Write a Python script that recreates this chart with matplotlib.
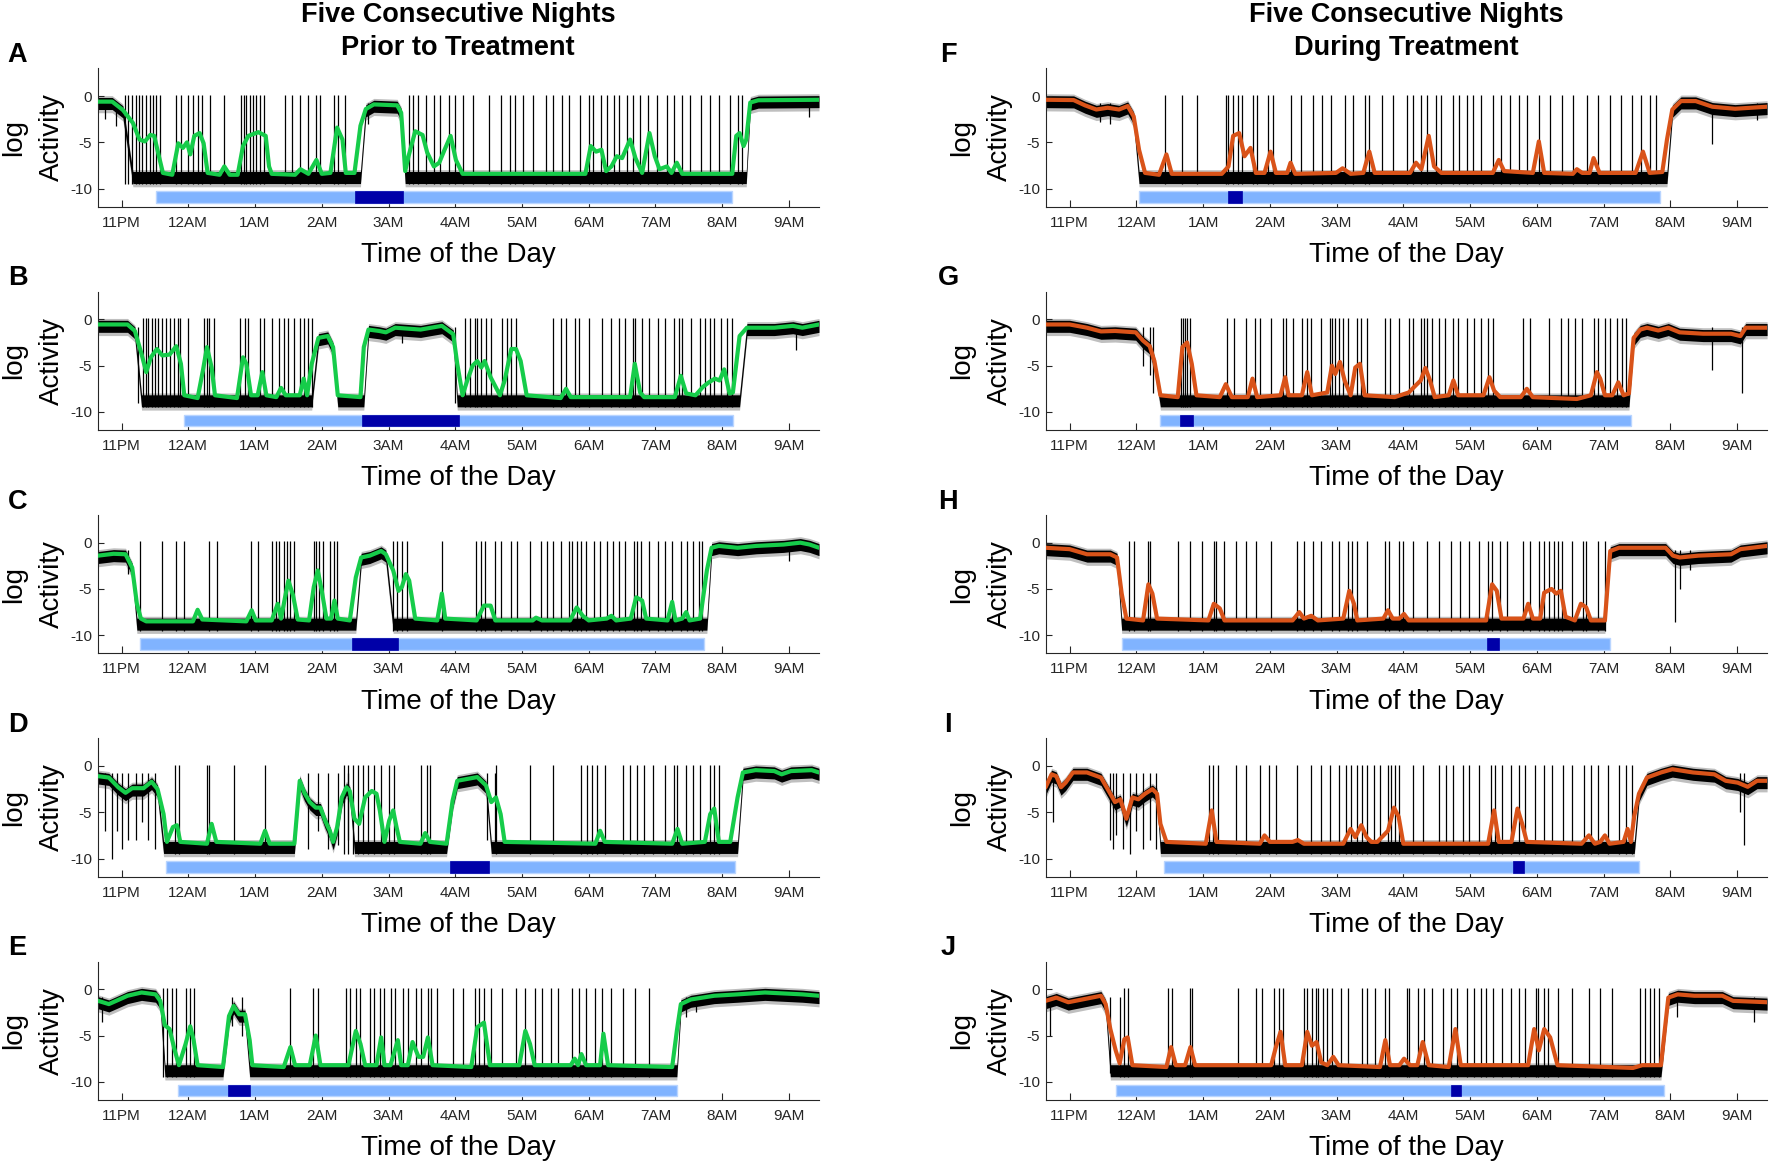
import numpy as np
import matplotlib
matplotlib.use("Agg")
import matplotlib.pyplot as plt

plt.rcParams['font.family'] = ['Liberation Sans', 'DejaVu Sans']

# ---------------- data (hours; 24 = midnight) ----------------
HOUR_TICKS = [23, 24, 25, 26, 27, 28, 29, 30, 31, 32, 33]
HOUR_LABELS = ['11PM', '12AM', '1AM', '2AM', '3AM', '4AM', '5AM', '6AM', '7AM', '8AM', '9AM']
Y_TICKS = [-10, -5, 0]
PANEL_LETTERS = ['A', 'B', 'C', 'D', 'E', 'F', 'G', 'H', 'I', 'J']
TITLE_LEFT = ['Five Consecutive Nights', 'Prior to Treatment']
TITLE_RIGHT = ['Five Consecutive Nights', 'During Treatment']
SLEEP_LEVEL = -8.6   # typical raw log activity while asleep

# smoothed log activity (time, value)
A_curve = [(22.62, -0.6), (22.86, -0.6), (23.02, -1.5), (23.17, -2.9), (23.27, -4.7), (23.35, -4.9), (23.43, -4.2),
           (23.49, -4.3), (23.56, -6.5), (23.62, -8.3), (23.76, -8.5), (23.85, -5.1), (23.92, -5.6), (23.98, -5.0),
           (24.03, -6.3), (24.09, -4.3), (24.17, -4.0), (24.23, -5.1), (24.29, -8.3), (24.47, -8.5), (24.54, -7.6),
           (24.62, -8.5), (24.74, -8.5), (24.82, -5.4), (24.90, -4.3), (25.05, -3.9), (25.16, -4.3), (25.21, -7.6),
           (25.25, -8.4), (25.60, -8.5), (25.68, -7.9), (25.80, -8.4), (25.92, -6.9), (26.00, -8.4), (26.13, -8.3),
           (26.23, -3.4), (26.31, -4.7), (26.36, -8.3), (26.49, -8.3), (26.58, -3.2), (26.66, -1.4), (26.78, -0.9),
           (27.13, -1.0), (27.19, -1.8), (27.25, -8.1), (27.30, -6.5), (27.40, -3.8), (27.51, -4.2), (27.58, -6.1),
           (27.68, -7.6), (27.76, -7.2), (27.84, -5.8), (27.93, -4.3), (28.01, -6.9), (28.11, -8.4), (29.95, -8.4),
           (30.03, -5.4), (30.11, -6.0), (30.19, -5.8), (30.26, -8.1), (30.34, -7.6), (30.42, -6.5), (30.50, -6.7),
           (30.62, -4.7), (30.70, -6.7), (30.80, -8.3), (30.91, -4.0), (30.99, -6.5), (31.06, -7.9), (31.17, -7.6),
           (31.24, -8.3), (31.32, -7.2), (31.40, -8.4), (32.15, -8.4), (32.21, -4.3), (32.26, -4.0), (32.32, -5.4),
           (32.36, -4.7), (32.42, -0.7), (32.54, -0.45), (33.45, -0.4)]
B_curve = [(22.65, -0.55), (23.09, -0.55), (23.20, -1.25), (23.30, -3.75), (23.37, -5.7), (23.44, -4.1), (23.53, -3.2),
           (23.61, -3.9), (23.72, -3.8), (23.82, -2.9), (23.89, -4.8), (23.94, -8.2), (24.14, -8.5), (24.22, -5.5),
           (24.28, -3.0), (24.35, -5.2), (24.40, -8.2), (24.73, -8.5), (24.82, -4.1), (24.87, -4.8), (24.94, -8.2),
           (25.04, -8.2), (25.11, -5.7), (25.17, -8.2), (25.32, -8.4), (25.39, -7.4), (25.46, -8.2), (25.67, -8.2),
           (25.73, -6.4), (25.78, -8.2), (25.85, -4.8), (25.95, -2.0), (26.09, -1.8), (26.17, -3.0), (26.24, -8.2),
           (26.58, -8.4), (26.63, -3.0), (26.70, -1.1), (26.86, -1.25), (26.96, -1.4), (27.10, -0.9), (27.48, -1.1),
           (27.80, -0.7), (27.97, -1.6), (28.03, -4.8), (28.11, -8.2), (28.18, -6.6), (28.26, -5.0), (28.33, -4.5),
           (28.39, -5.2), (28.44, -4.5), (28.53, -6.25), (28.67, -8.2), (28.74, -6.6), (28.84, -3.2), (28.91, -3.2),
           (28.98, -4.5), (29.07, -8.2), (29.58, -8.5), (29.66, -7.5), (29.73, -8.4), (30.62, -8.4), (30.69, -4.8),
           (30.77, -7.9), (30.83, -8.4), (31.29, -8.4), (31.38, -6.1), (31.46, -8.0), (31.60, -8.2), (31.71, -7.3),
           (31.80, -6.8), (31.89, -6.4), (31.96, -6.6), (32.03, -5.4), (32.11, -8.0), (32.16, -7.9), (32.26, -1.8),
           (32.37, -0.9), (32.78, -0.9), (33.06, -0.7), (33.20, -0.9), (33.45, -0.55)]
C_curve = [(22.65, -1.4), (22.88, -1.2), (23.06, -1.25), (23.16, -2.7), (23.23, -6.6), (23.29, -8.2), (23.37, -8.5),
           (24.07, -8.5), (24.14, -7.25), (24.21, -8.3), (24.87, -8.5), (24.95, -7.3), (25.01, -8.4), (25.25, -8.4),
           (25.34, -6.6), (25.39, -8.2), (25.45, -5.9), (25.50, -4.1), (25.57, -5.7), (25.64, -8.3), (25.81, -8.4),
           (25.88, -4.8), (25.94, -3.0), (26.00, -5.2), (26.07, -8.2), (26.14, -8.2), (26.19, -6.25), (26.24, -8.2),
           (26.42, -8.4), (26.51, -3.75), (26.59, -1.6), (26.72, -1.4), (26.89, -0.9), (26.96, -1.25), (27.07, -3.0),
           (27.15, -5.2), (27.20, -4.8), (27.26, -3.4), (27.31, -4.1), (27.40, -8.2), (27.73, -8.4), (27.80, -5.5),
           (27.85, -8.2), (28.32, -8.4), (28.43, -6.8), (28.53, -6.8), (28.60, -8.4), (29.16, -8.4), (29.21, -8.1),
           (29.30, -8.4), (29.72, -8.4), (29.82, -7.0), (29.91, -7.9), (30.00, -8.4), (30.27, -8.2), (30.34, -7.9),
           (30.41, -8.4), (30.63, -8.2), (30.71, -5.9), (30.80, -6.25), (30.86, -8.2), (31.18, -8.4), (31.25, -6.4),
           (31.30, -8.4), (31.40, -8.2), (31.46, -7.5), (31.51, -8.4), (31.67, -8.2), (31.77, -3.0), (31.84, -0.55),
           (31.95, -0.35), (32.23, -0.55), (32.51, -0.35), (32.92, -0.2), (33.17, 0.0), (33.31, -0.2), (33.45, -0.55)]
D_curve = [(22.65, -1.1), (22.81, -1.25), (22.95, -2.3), (23.06, -2.9), (23.16, -2.4), (23.33, -2.4), (23.45, -1.7),
           (23.54, -2.5), (23.63, -5.2), (23.68, -8.2), (23.77, -6.6), (23.83, -6.4), (23.88, -8.2), (24.28, -8.4),
           (24.35, -6.25), (24.42, -8.2), (25.08, -8.4), (25.15, -7.0), (25.22, -8.4), (25.59, -8.4), (25.67, -1.6),
           (25.74, -2.9), (25.82, -3.9), (25.91, -4.5), (25.98, -4.5), (26.05, -5.9), (26.12, -7.0), (26.17, -8.2),
           (26.23, -6.6), (26.30, -3.4), (26.37, -2.3), (26.42, -2.7), (26.49, -5.7), (26.56, -6.25), (26.65, -3.4),
           (26.75, -2.7), (26.82, -3.0), (26.87, -4.8), (26.94, -8.2), (27.01, -5.9), (27.07, -4.8), (27.12, -6.6),
           (27.17, -8.2), (27.48, -8.4), (27.55, -7.25), (27.62, -8.2), (27.87, -8.4), (27.96, -3.75), (28.03, -1.6),
           (28.18, -1.4), (28.33, -1.2), (28.46, -2.1), (28.54, -3.9), (28.61, -3.4), (28.68, -5.2), (28.74, -8.2),
           (30.10, -8.4), (30.17, -7.0), (30.24, -8.2), (31.25, -8.4), (31.33, -6.8), (31.40, -8.4), (31.74, -8.2),
           (31.82, -5.2), (31.88, -4.6), (31.95, -8.2), (32.12, -8.2), (32.23, -3.4), (32.31, -0.7), (32.50, -0.45),
           (32.78, -0.55), (32.89, -0.9), (33.03, -0.55), (33.34, -0.45), (33.45, -0.7)]
E_curve = [(22.65, -1.25), (22.81, -1.6), (22.92, -1.25), (23.09, -0.7), (23.30, -0.35), (23.51, -0.55), (23.58, -1.25),
           (23.65, -3.9), (23.72, -4.3), (23.79, -6.4), (23.86, -8.2), (23.96, -5.9), (24.03, -4.0), (24.08, -5.5),
           (24.14, -8.2), (24.52, -8.4), (24.61, -2.9), (24.68, -1.8), (24.76, -2.7), (24.85, -2.7), (24.92, -5.5),
           (24.96, -8.2), (25.43, -8.4), (25.53, -6.25), (25.60, -8.2), (25.82, -8.2), (25.91, -5.0), (25.98, -8.2),
           (26.40, -8.2), (26.51, -4.5), (26.58, -5.9), (26.65, -8.2), (26.82, -8.2), (26.89, -5.2), (26.94, -8.2),
           (27.03, -8.2), (27.14, -5.5), (27.19, -8.2), (27.29, -8.2), (27.36, -5.7), (27.45, -7.3), (27.52, -7.3),
           (27.59, -5.2), (27.66, -8.2), (28.24, -8.4), (28.33, -4.1), (28.43, -3.6), (28.52, -8.2), (28.96, -8.2),
           (29.05, -4.5), (29.12, -5.9), (29.19, -8.2), (29.73, -8.2), (29.79, -7.5), (29.84, -8.2), (29.89, -7.0),
           (29.96, -8.2), (30.17, -8.2), (30.22, -4.8), (30.29, -8.2), (31.25, -8.4), (31.32, -4.5), (31.38, -1.6),
           (31.53, -1.1), (31.88, -0.7), (32.23, -0.55), (32.64, -0.35), (32.92, -0.45), (33.20, -0.55), (33.45, -0.7)]
F_curve = [(22.64, -0.4), (23.06, -0.43), (23.23, -1.0), (23.40, -1.45), (23.57, -1.26), (23.74, -1.45), (23.87, -1.08),
           (23.96, -2.2), (24.04, -5.8), (24.13, -8.3), (24.34, -8.5), (24.45, -6.3), (24.53, -8.4), (25.28, -8.4),
           (25.38, -7.6), (25.45, -4.3), (25.54, -4.0), (25.62, -6.5), (25.71, -5.6), (25.79, -8.3), (25.92, -8.3),
           (26.01, -6.0), (26.09, -8.3), (26.26, -8.3), (26.31, -7.2), (26.38, -8.4), (26.99, -8.3), (27.09, -7.8),
           (27.21, -8.4), (27.40, -8.3), (27.49, -6.0), (27.57, -8.3), (28.10, -8.3), (28.19, -7.2), (28.27, -7.9),
           (28.38, -4.3), (28.46, -7.6), (28.57, -8.3), (29.34, -8.3), (29.43, -6.9), (29.51, -8.1), (29.94, -8.3),
           (30.03, -4.9), (30.11, -8.3), (30.54, -8.4), (30.60, -7.9), (30.68, -8.3), (30.79, -8.3), (30.85, -6.7),
           (30.94, -8.3), (31.48, -8.3), (31.59, -6.0), (31.69, -8.3), (31.88, -8.2), (31.95, -4.7), (32.03, -1.45),
           (32.16, -0.54), (32.38, -0.54), (32.63, -1.15), (32.97, -1.37), (33.45, -1.15)]
G_curve = [(22.64, -0.55), (23.00, -0.55), (23.26, -0.9), (23.47, -1.3), (23.68, -1.25), (23.99, -1.4), (24.10, -2.3),
           (24.20, -2.9), (24.27, -4.5), (24.36, -8.2), (24.62, -8.4), (24.69, -3.0), (24.76, -2.5), (24.83, -4.8),
           (24.90, -8.2), (25.25, -8.4), (25.34, -7.0), (25.43, -8.4), (25.67, -8.4), (25.74, -6.4), (25.81, -8.4),
           (26.16, -8.2), (26.23, -6.25), (26.28, -8.2), (26.48, -8.2), (26.56, -5.7), (26.63, -8.2), (26.86, -7.9),
           (26.93, -5.0), (26.98, -5.9), (27.05, -4.6), (27.12, -6.6), (27.21, -8.2), (27.28, -5.2), (27.35, -4.8),
           (27.42, -8.2), (27.87, -8.4), (28.08, -7.9), (28.19, -7.1), (28.26, -6.6), (28.33, -5.25), (28.40, -6.6),
           (28.47, -8.4), (28.68, -8.2), (28.75, -6.6), (28.82, -8.2), (29.20, -8.2), (29.29, -6.25), (29.36, -7.7),
           (29.45, -8.4), (29.76, -8.4), (29.85, -7.5), (29.94, -8.4), (30.60, -8.6), (30.81, -8.2), (30.90, -5.7),
           (30.95, -6.4), (31.02, -8.2), (31.13, -8.2), (31.22, -6.8), (31.30, -8.2), (31.38, -8.0), (31.45, -2.0),
           (31.55, -1.1), (31.65, -0.9), (31.82, -1.2), (31.97, -0.9), (32.14, -1.4), (32.49, -1.55), (32.91, -1.55),
           (33.05, -1.8), (33.13, -0.9), (33.45, -0.9)]
H_curve = [(22.64, -0.55), (23.00, -0.7), (23.26, -1.25), (23.61, -1.25), (23.71, -1.6), (23.78, -5.5), (23.85, -8.2),
           (24.10, -8.4), (24.18, -4.5), (24.24, -5.5), (24.31, -8.2), (25.08, -8.4), (25.16, -6.6), (25.25, -7.1),
           (25.32, -8.4), (26.34, -8.4), (26.44, -7.5), (26.51, -8.2), (26.62, -7.9), (26.72, -8.4), (27.10, -8.2),
           (27.19, -5.2), (27.26, -6.6), (27.31, -8.4), (27.70, -8.2), (27.77, -7.3), (27.84, -8.2), (27.94, -8.2),
           (28.01, -7.7), (28.08, -8.4), (29.24, -8.4), (29.33, -4.5), (29.40, -5.2), (29.47, -8.2), (29.80, -8.2),
           (29.87, -6.6), (29.94, -8.2), (30.05, -8.2), (30.11, -5.4), (30.22, -5.0), (30.29, -5.5), (30.36, -5.2),
           (30.43, -8.0), (30.57, -8.4), (30.66, -6.6), (30.74, -7.0), (30.81, -8.4), (31.02, -8.4), (31.10, -0.9),
           (31.23, -0.55), (31.93, -0.55), (32.04, -1.4), (32.14, -1.6), (32.42, -1.4), (32.91, -1.25), (33.05, -0.7),
           (33.45, -0.35)]
I_curve = [(22.64, -2.3), (22.73, -0.9), (22.80, -1.1), (22.87, -2.3), (22.94, -1.8), (23.05, -0.7), (23.26, -0.7),
           (23.47, -1.25), (23.61, -3.0), (23.68, -3.9), (23.76, -3.6), (23.85, -5.7), (23.94, -3.4), (24.03, -3.6),
           (24.13, -3.0), (24.24, -2.5), (24.31, -3.0), (24.36, -6.25), (24.45, -8.2), (25.04, -8.4), (25.13, -4.8),
           (25.20, -8.2), (25.85, -8.4), (25.92, -7.5), (26.00, -8.2), (26.34, -8.2), (26.42, -8.0), (26.51, -8.4),
           (27.10, -8.4), (27.21, -6.8), (27.28, -7.7), (27.37, -6.4), (27.45, -7.7), (27.52, -8.2), (27.61, -8.2),
           (27.77, -7.0), (27.86, -4.5), (27.93, -5.5), (28.00, -8.4), (29.27, -8.4), (29.36, -4.8), (29.43, -8.2),
           (29.62, -8.2), (29.71, -4.6), (29.78, -6.25), (29.85, -8.2), (30.67, -8.4), (30.78, -7.5), (30.87, -8.4),
           (30.95, -8.2), (31.02, -7.5), (31.09, -8.4), (31.30, -8.2), (31.36, -6.8), (31.41, -8.2), (31.46, -5.4),
           (31.53, -3.0), (31.65, -1.25), (31.86, -0.7), (32.03, -0.35), (32.34, -0.7), (32.66, -0.9), (32.83, -1.6),
           (33.01, -1.8), (33.16, -2.25), (33.30, -1.6), (33.45, -1.6)]
J_curve = [(22.64, -1.25), (22.80, -0.9), (22.98, -1.4), (23.19, -1.1), (23.47, -0.7), (23.54, -1.6), (23.61, -4.3),
           (23.69, -6.6), (23.75, -8.0), (23.82, -5.4), (23.87, -5.2), (23.94, -8.2), (24.45, -8.4), (24.52, -6.25),
           (24.59, -8.2), (24.73, -8.2), (24.81, -6.25), (24.88, -8.2), (26.02, -8.2), (26.09, -6.25), (26.16, -4.6),
           (26.23, -8.2), (26.48, -8.2), (26.56, -4.6), (26.63, -6.1), (26.70, -5.7), (26.77, -7.9), (26.86, -8.2),
           (26.95, -7.3), (27.03, -8.2), (27.65, -8.4), (27.73, -5.5), (27.80, -8.2), (27.94, -8.2), (28.01, -7.5),
           (28.10, -8.2), (28.21, -8.2), (28.29, -5.7), (28.38, -8.2), (28.68, -8.4), (28.78, -4.3), (28.86, -8.2),
           (29.87, -8.2), (29.96, -4.3), (30.03, -6.6), (30.11, -4.3), (30.20, -5.2), (30.31, -8.2), (31.44, -8.5),
           (31.58, -8.2), (31.86, -8.2), (31.97, -0.9), (32.11, -0.55), (32.36, -0.7), (32.78, -0.7), (32.94, -1.25),
           (33.45, -1.4)]

# awake stretches (raw activity stays near the smoothed curve)
A_wake = [(22.6, 23.1), (26.6, 27.2), (32.4, 33.5)]
B_wake = [(22.6, 23.25), (25.9, 26.2), (26.65, 27.98), (32.28, 33.5)]
C_wake = [(22.6, 23.18), (26.52, 27.0), (31.8, 33.5)]
D_wake = [(22.6, 23.6), (25.66, 26.45), (27.95, 28.5), (32.3, 33.5)]
E_wake = [(22.6, 23.6), (24.6, 24.9), (31.36, 33.5)]
F_wake = [(22.6, 23.97), (32.0, 33.5)]
G_wake = [(22.6, 24.3), (31.45, 33.5)]
H_wake = [(22.6, 23.72), (31.1, 33.5)]
I_wake = [(22.6, 24.35), (31.5, 33.5)]
J_wake = [(22.6, 23.58), (31.95, 33.5)]

# brief full-range activity bursts (times)
A_bursts = [23.05, 23.10, 23.16, 23.21, 23.26, 23.31, 23.37, 23.42, 23.47, 23.52, 23.57, 23.82, 23.89, 24.00, 24.07,
            24.15, 24.21, 24.32, 24.54, 24.79, 24.84, 24.87, 24.92, 24.97, 25.02, 25.08, 25.13, 25.45, 25.56, 25.68,
            25.80, 25.92, 25.97, 26.19, 26.25, 26.35, 27.30, 27.37, 27.44, 27.56, 27.68, 27.77, 27.90, 27.99, 28.11,
            28.27, 28.50, 28.68, 28.82, 28.89, 29.01, 29.17, 29.36, 29.47, 29.60, 29.70, 29.87, 30.01, 30.07, 30.19,
            30.28, 30.38, 30.46, 30.58, 30.67, 30.77, 30.89, 31.03, 31.17, 31.28, 31.39, 31.52, 31.68, 31.82, 31.95,
            32.11, 32.24, 32.30]
B_bursts = [23.32, 23.36, 23.40, 23.45, 23.50, 23.55, 23.60, 23.66, 23.72, 23.78, 23.84, 23.88, 24.00, 24.24, 24.28,
            24.31, 24.38, 24.78, 24.85, 24.90, 25.08, 25.13, 25.25, 25.36, 25.43, 25.50, 25.59, 25.67, 25.74, 25.80,
            25.86, 28.15, 28.22, 28.29, 28.32, 28.38, 28.46, 28.53, 28.70, 28.77, 28.84, 28.91, 29.47, 29.58, 29.66,
            29.79, 29.86, 30.00, 30.20, 30.34, 30.45, 30.54, 30.66, 30.69, 30.80, 30.90, 31.04, 31.15, 31.28, 31.35,
            31.40, 31.53, 31.67, 31.74, 31.81, 31.88, 31.98, 32.07, 32.14]
C_bursts = [23.27, 23.61, 23.82, 23.93, 24.31, 24.43, 24.94, 25.04, 25.25, 25.31, 25.36, 25.43, 25.48, 25.53, 25.59,
            25.88, 25.91, 25.96, 26.02, 26.12, 26.19, 26.23, 27.07, 27.12, 27.20, 27.28, 27.80, 28.31, 28.38, 28.45,
            28.59, 28.68, 28.84, 28.93, 29.12, 29.28, 29.37, 29.47, 29.58, 29.70, 29.75, 29.82, 29.89, 29.96, 30.08,
            30.17, 30.27, 30.36, 30.45, 30.55, 30.68, 30.73, 30.78, 30.90, 31.04, 31.15, 31.25, 31.38, 31.47, 31.56,
            31.65, 31.70]
D_bursts = [23.80, 23.86, 24.28, 24.31, 24.69, 25.15, 26.33, 26.40, 26.47, 26.55, 26.62, 26.70, 26.79, 26.89, 27.01,
            27.08, 27.48, 27.57, 27.62, 28.61, 29.12, 29.47, 29.89, 29.98, 30.05, 30.13, 30.24, 30.52, 30.62, 30.73,
            30.83, 30.97, 31.15, 31.28, 31.32, 31.46, 31.56, 31.67, 31.81, 31.88, 31.95]
E_bursts = [23.62, 23.68, 23.75, 23.82, 23.96, 24.03, 24.08, 25.53, 25.87, 25.95, 26.37, 26.42, 26.51, 26.58, 26.72,
            26.79, 26.87, 26.94, 27.03, 27.10, 27.21, 27.29, 27.41, 27.48, 27.59, 27.64, 27.73, 27.96, 28.11, 28.29,
            28.36, 28.43, 28.53, 28.70, 28.91, 29.05, 29.19, 29.30, 29.44, 29.54, 29.75, 29.85, 29.96, 30.10, 30.20,
            30.34, 30.52, 30.69, 30.90]
F_bursts = [24.43, 24.68, 24.91, 25.34, 25.38, 25.45, 25.52, 25.58, 25.75, 25.81, 25.97, 26.05, 26.31, 26.46, 26.65,
            26.78, 26.91, 27.12, 27.25, 27.42, 27.49, 27.68, 27.85, 28.06, 28.15, 28.27, 28.36, 28.49, 28.57, 28.74,
            28.83, 28.96, 29.04, 29.17, 29.34, 29.47, 29.60, 29.73, 29.85, 30.03, 30.20, 30.37, 30.54, 30.75, 30.92,
            31.09, 31.26, 31.42, 31.56, 31.69, 31.78]
G_bursts = [24.67, 24.70, 24.73, 24.76, 24.80, 25.36, 25.46, 25.64, 25.78, 25.85, 26.02, 26.20, 26.24, 26.34, 26.48,
            26.55, 26.62, 26.76, 26.90, 26.93, 26.97, 27.03, 27.10, 27.17, 27.30, 27.37, 27.45, 27.73, 27.80, 27.94,
            28.08, 28.15, 28.26, 28.31, 28.36, 28.43, 28.54, 28.63, 28.75, 28.82, 28.96, 29.06, 29.17, 29.27, 29.34,
            29.80, 29.90, 30.18, 30.36, 30.46, 30.57, 30.67, 30.85, 30.92, 31.02, 31.09, 31.20, 31.27, 31.34]
H_bursts = [23.89, 23.96, 24.17, 24.20, 24.62, 24.80, 24.99, 25.16, 25.20, 25.32, 25.50, 25.64, 25.79, 26.02, 26.41,
            26.51, 26.65, 26.76, 26.93, 27.03, 27.17, 27.23, 27.31, 27.45, 27.73, 27.79, 27.94, 28.00, 28.15, 28.36,
            28.54, 28.71, 28.85, 28.99, 29.13, 29.27, 29.33, 29.45, 29.55, 29.80, 29.90, 30.03, 30.11, 30.18, 30.25,
            30.32, 30.38, 30.53, 30.69, 30.74, 30.92, 31.02]
I_bursts = [25.09, 25.15, 25.22, 25.50, 25.64, 25.85, 25.99, 26.09, 26.41, 26.62, 26.76, 26.90, 27.03, 27.14, 27.21,
            27.31, 27.38, 27.45, 27.56, 27.65, 27.77, 27.82, 27.87, 27.94, 28.15, 28.29, 28.54, 28.64, 28.75, 28.89,
            28.99, 29.13, 29.31, 29.38, 29.48, 29.62, 29.73, 29.83, 29.97, 30.11, 30.22, 30.39, 30.53, 30.71, 30.81,
            30.92, 31.06, 31.23, 31.34, 31.43]
J_bursts = [23.82, 23.87, 24.48, 24.53, 24.80, 24.83, 25.53, 25.79, 25.88, 26.06, 26.13, 26.20, 26.51, 26.56, 26.63,
            26.69, 26.72, 26.79, 26.86, 26.93, 27.07, 27.17, 27.38, 27.45, 27.58, 27.73, 27.79, 28.05, 28.08, 28.22,
            28.31, 28.43, 28.59, 28.71, 28.80, 28.96, 29.06, 29.17, 29.24, 29.34, 29.48, 29.62, 29.73, 29.83, 29.99,
            30.01, 30.11, 30.17, 30.32, 30.53, 30.78, 30.95, 31.13, 31.55, 31.62, 31.69, 31.76, 31.83]

# downward dips during wake (time, lowest value)
A_dips = [(22.75, -2.5), (22.92, -3.2), (26.70, -3.0), (33.30, -2.3)]
B_dips = [(23.25, -9.0), (27.20, -2.5), (28.00, -9.0), (33.10, -3.3)]
C_dips = [(23.10, -3.4), (33.00, -2.0)]
D_dips = [(22.75, -7.0), (22.85, -10.0), (22.93, -7.0), (23.00, -9.0), (23.10, -8.0), (23.22, -8.0), (23.30, -6.0),
          (23.40, -8.0), (23.50, -9.0), (25.80, -9.0), (25.95, -7.0), (26.10, -9.0), (26.25, -8.5), (26.40, -8.0),
          (28.47, -8.0), (28.60, -9.0)]
E_dips = [(22.70, -3.5), (24.65, -4.0), (24.80, -5.0), (31.45, -3.0), (31.60, -2.5)]
F_dips = [(23.45, -2.8), (23.60, -3.0), (32.63, -5.2), (33.30, -2.6)]
G_dips = [(24.10, -5.0), (24.20, -6.0), (24.25, -8.0), (32.63, -5.5), (33.07, -8.0)]
H_dips = [(32.07, -8.6), (32.15, -5.0), (32.30, -3.0)]
I_dips = [(22.75, -6.0), (23.60, -8.0), (23.65, -9.0), (23.70, -7.5), (23.80, -9.0), (23.90, -9.5), (24.00, -7.0),
          (24.10, -9.0), (24.20, -8.0), (24.30, -9.0), (33.05, -5.0), (33.10, -8.5)]
J_dips = [(22.70, -5.0), (23.60, -9.0), (23.75, -9.5), (32.10, -3.0), (33.25, -3.5)]

# sleep period bar and highlighted segment (start, end)
A_bar, A_mark = (23.51, 32.15), (26.50, 27.21)
B_bar, B_mark = (23.93, 32.16), (26.61, 28.06)
C_bar, C_mark = (23.28, 31.72), (26.46, 27.14)
D_bar, D_mark = (23.66, 32.19), (27.92, 28.50)
E_bar, E_mark = (23.84, 31.32), (24.59, 24.92)
F_bar, F_mark = (24.04, 31.85), (25.38, 25.58)
G_bar, G_mark = (24.36, 31.41), (24.66, 24.85)
H_bar, H_mark = (23.78, 31.10), (29.26, 29.43)
I_bar, I_mark = (24.41, 31.53), (29.64, 29.81)
J_bar, J_mark = (23.69, 31.91), (28.71, 28.87)

# ---------------- style ----------------
XLIM = (22.64, 33.45)
YLIM = (-11.95, 3.0)
GREEN = '#16CC4A'
ORANGE = '#D95319'
LIGHT = '#80B3FF'
LIGHT_EDGE = '#B9D5FF'
DARK = '#0000A8'
AXC = '#262626'
W, H = 1772, 1163

panels = [
    (A_curve, A_wake, A_bursts, A_dips, A_bar, A_mark, GREEN),
    (B_curve, B_wake, B_bursts, B_dips, B_bar, B_mark, GREEN),
    (C_curve, C_wake, C_bursts, C_dips, C_bar, C_mark, GREEN),
    (D_curve, D_wake, D_bursts, D_dips, D_bar, D_mark, GREEN),
    (E_curve, E_wake, E_bursts, E_dips, E_bar, E_mark, GREEN),
    (F_curve, F_wake, F_bursts, F_dips, F_bar, F_mark, ORANGE),
    (G_curve, G_wake, G_bursts, G_dips, G_bar, G_mark, ORANGE),
    (H_curve, H_wake, H_bursts, H_dips, H_bar, H_mark, ORANGE),
    (I_curve, I_wake, I_bursts, I_dips, I_bar, I_mark, ORANGE),
    (J_curve, J_wake, J_bursts, J_dips, J_bar, J_mark, ORANGE),
]

fig = plt.figure(figsize=(W / 100, H / 100), dpi=100)

col_left = [97.5, 1045.6]
col_w = 721.5
ax_h = 138.4
row_step = 223.3
row0 = 68.3


def draw(ax, curve, wake, bursts, dips, bar, mark, color):
    t = np.array([p[0] for p in curve])
    v = np.array([p[1] for p in curve])
    awake = np.zeros(len(t), dtype=bool)
    for s, e in wake:
        awake |= (t >= s) & (t <= e)
    level = np.where(awake, v, SLEEP_LEVEL)
    # raw activity noise band
    ax.fill_between(t, level - 1.2, level + 0.65, color='black', alpha=0.25, lw=0, zorder=1)
    ax.fill_between(t, level - 0.85, level + 0.45, color='black', lw=0, zorder=1)
    ax.vlines(bursts, -9.5, 0.15, color='black', lw=0.9, zorder=1.5)
    if dips:
        ax.vlines([d[0] for d in dips], [d[1] for d in dips], -0.8, color='black', lw=0.9, zorder=1.5)
    ax.plot(t, v, color=color, lw=3.0, zorder=3, solid_joinstyle='round', solid_capstyle='round')
    ax.barh(-10.93, bar[1] - bar[0], left=bar[0], height=1.25, color=LIGHT,
            edgecolor=LIGHT_EDGE, lw=1.0, zorder=2)
    ax.barh(-10.93, mark[1] - mark[0], left=mark[0], height=1.25, color=DARK,
            edgecolor=DARK, lw=0.5, zorder=2.5)


for i, (curve, wake, bursts, dips, bar, mark, color) in enumerate(panels):
    col = i // 5
    row = i % 5
    top = row0 + row * row_step
    ax = fig.add_axes([col_left[col] / W, 1 - (top + ax_h) / H, col_w / W, ax_h / H])
    draw(ax, curve, wake, bursts, dips, bar, mark, color)
    ax.set_xlim(*XLIM)
    ax.set_ylim(*YLIM)
    ax.set_xticks(HOUR_TICKS)
    ax.set_xticklabels(HOUR_LABELS)
    ax.set_yticks(Y_TICKS)
    ax.set_yticklabels([str(y) for y in Y_TICKS])
    for sp in ['top', 'right']:
        ax.spines[sp].set_visible(False)
    for sp in ['left', 'bottom']:
        ax.spines[sp].set_color(AXC)
        ax.spines[sp].set_linewidth(0.8)
    ax.tick_params(axis='x', direction='in', length=5, width=0.8, colors=AXC, labelsize=11, pad=6.5)
    ax.tick_params(axis='y', direction='in', length=4, width=0.8, colors=AXC, labelsize=11, pad=4)
    cx = (col_left[col] + col_w / 2) / W
    fig.text(cx, 1 - (top + ax_h + 48.5) / H, 'Time of the Day', ha='center', va='center',
             fontsize=20, color='black')
    fig.text((col_left[col] - 64.5) / W, 1 - (top + ax_h / 2) / H, 'log\nActivity', rotation=90,
             ha='center', va='center', multialignment='center', fontsize=20, color='black',
             linespacing=1.6)
    lx = 17.5 if col == 0 else 948
    fig.text(lx / W, 1 - (62 + row * row_step) / H, PANEL_LETTERS[i], ha='center', va='baseline',
             fontsize=19.5, fontweight='bold')

for col, lines in enumerate([TITLE_LEFT, TITLE_RIGHT]):
    cx = (col_left[col] + col_w / 2) / W
    fig.text(cx, 1 - 22 / H, lines[0], ha='center', va='baseline', fontsize=19.5, fontweight='bold')
    fig.text(cx, 1 - 55 / H, lines[1], ha='center', va='baseline', fontsize=19.5, fontweight='bold')

fig.savefig('out.png', dpi=100, facecolor='white')
